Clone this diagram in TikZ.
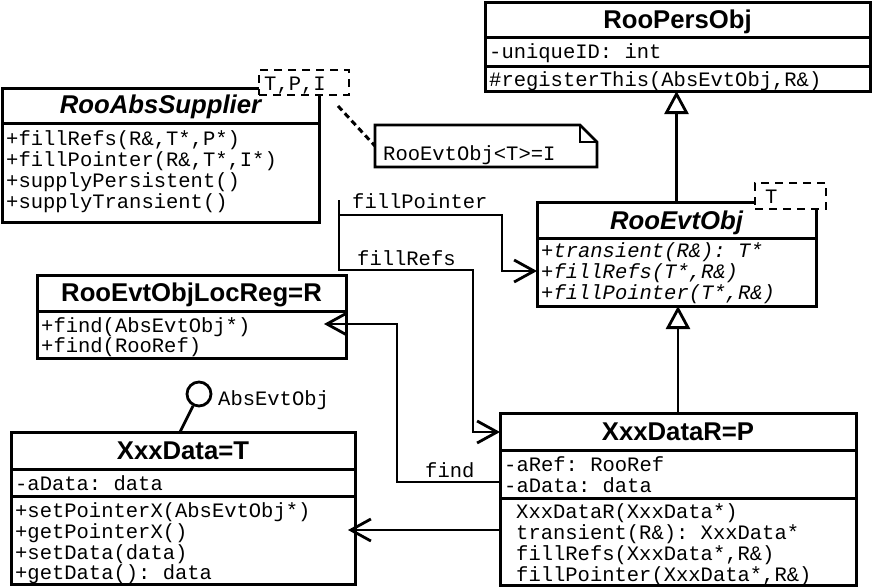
\documentclass[tikz,border=0pt]{standalone}
\usepackage{fontspec}
\setmainfont{Liberation Sans}
\setmonofont{Liberation Mono}
\usetikzlibrary{arrows.meta}
\begin{document}
\begin{tikzpicture}[x=1pt,y=-1pt,
  box/.style={draw, line width=3pt, inner sep=0pt, outer sep=0pt, anchor=north west, fill=white},
  sepline/.style={line width=3pt},
  ttl/.style={font=\fontsize{25.7}{30}\selectfont\bfseries, anchor=base, inner sep=0pt},
  attl/.style={font=\fontsize{25.7}{30}\selectfont\bfseries\itshape, anchor=base, inner sep=0pt},
  row/.style={font=\fontsize{20.5}{21}\selectfont\ttfamily, anchor=base west, inner sep=0pt},
  irow/.style={font=\fontsize{20.5}{21}\selectfont\ttfamily\itshape, anchor=base west, inner sep=0pt},
  conn/.style={line width=2.8pt},
  oarrow/.style={-{Straight Barb[length=20pt,width=22pt]}},
  inh/.style={line width=2.8pt, -{Triangle[open,length=23pt,width=24pt]}},
  tmpl/.style={draw, line width=2.8pt, dash pattern=on 8pt off 6pt, fill=white, inner sep=0pt, outer sep=0pt, anchor=north west},
]
\useasboundingbox (0,0) rectangle (872,587);

% ---------- RooPersObj ----------
\node[box, minimum width=385pt, minimum height=89pt] (ps) at (485,2) {};
\draw[sepline] (485,37) -- (870,37);
\draw[sepline] (485,66) -- (870,66);
\node[ttl] (pst) at (677.5,28) {RooPersObj};
\node[row] (ps1) at (489,58) {-uniqueID: int};
\node[row] (ps2) at (489,86) {\#registerThis(AbsEvtObj,R\&)};

% ---------- RooAbsSupplier ----------
\node[box, minimum width=317pt, minimum height=134pt] (as) at (2,88) {};
\draw[sepline] (2,123) -- (319,123);
\node[attl] (ast) at (160.5,113) {RooAbsSupplier};
\node[row] (as1) at (6,145) {+fillRefs(R\&,T*,P*)};
\node[row] (as2) at (6,166) {+fillPointer(R\&,T*,I*)};
\node[row] (as3) at (6,187) {+supplyPersistent()};
\node[row] (as4) at (6,208) {+supplyTransient()};

% ---------- note ----------
\node[inner sep=0pt, outer sep=0pt, minimum width=222pt, minimum height=42pt, anchor=north west] (note) at (375,125) {};
\draw[line width=2.8pt, line join=miter]
  (note.north west) -- ([xshift=-17pt]note.north east) -- ([yshift=-17pt]note.north east)
  -- (note.south east) -- (note.south west) -- cycle;
\draw[line width=1.6pt]
  ([xshift=-17pt]note.north east) -- ([xshift=-17pt,yshift=-17pt]note.north east) -- ([yshift=-17pt]note.north east);
\node[row] (notet) at (383,160) {RooEvtObj<T>=I};
\coordinate (dl) at (338,106);
\draw[line width=3pt, dash pattern=on 6pt off 4pt] (dl) -- (note.west);

% ---------- RooEvtObj ----------
\node[box, minimum width=279pt, minimum height=104pt] (evt) at (537,202) {};
\draw[sepline] (537,238) -- (816,238);
\node[attl] (evtt) at (676.5,229) {RooEvtObj};
\node[irow] (evt1) at (541,257) {+transient(R\&): T*};
\node[irow] (evt2) at (541,278) {+fillRefs(T*,R\&)};
\node[irow] (evt3) at (541,299) {+fillPointer(T*,R\&)};

% ---------- RooEvtObjLocReg ----------
\node[box, minimum width=309pt, minimum height=83pt] (loc) at (37,275) {};
\draw[sepline] (37,311) -- (346,311);
\node[ttl] (loct) at (191.5,301) {RooEvtObjLocReg=R};
\node[row] (loc1) at (41,332) {+find(AbsEvtObj*)};
\node[row] (loc2) at (41,352) {+find(RooRef)};

% ---------- XxxData ----------
\node[box, minimum width=344pt, minimum height=152pt] (xd) at (11,432) {};
\draw[sepline] (11,469) -- (355,469);
\draw[sepline] (11,496) -- (355,496);
\node[ttl] (xdt) at (183,459) {XxxData=T};
\node[row] (xd0) at (15,490) {-aData: data};
\node[row] (xd1) at (15,517) {+setPointerX(AbsEvtObj*)};
\node[row] (xd2) at (15,538) {+getPointerX()};
\node[row] (xd3) at (15,559) {+setData(data)};
\node[row] (xd4) at (15,579) {+getData(): data};

% lollipop
\node[draw, circle, line width=2.8pt, minimum size=24pt, inner sep=0pt] (lol) at (199,394) {};
\coordinate (lb) at (180,432);
\draw[conn] (lol) -- (lb);
\node[row] (lolt) at (218,405) {AbsEvtObj};

% ---------- XxxDataR ----------
\node[box, minimum width=356pt, minimum height=172pt] (xdr) at (500,413) {};
\draw[sepline] (500,450) -- (856,450);
\draw[sepline] (500,498) -- (856,498);
\node[ttl] (xdrt) at (678,440) {XxxDataR=P};
\node[row] (xdr1) at (504,471) {-aRef: RooRef};
\node[row] (xdr2) at (504,492) {-aData: data};
\node[row] (xdr3) at (516,518) {XxxDataR(XxxData*)};
\node[row] (xdr4) at (516,539) {transient(R\&): XxxData*};
\node[row] (xdr5) at (516,560) {fillRefs(XxxData*,R\&)};
\node[row] (xdr6) at (516,581) {fillPointer(XxxData*,R\&)};

% ---------- inheritance ----------
\draw[inh] (xdr.north) -- (xdr.north |- evt.south);
\draw[inh] (evt.north) -- (evt.north |- ps.south);

% ---------- connectors ----------
\coordinate (src) at (339,200);
\coordinate (c1) at (473,270);
\coordinate (fry) at (0,432);
\draw[conn, oarrow] (src) |- (c1) |- (xdr.west |- fry);
\node[row] (frl) at (357,265) {fillRefs};

\coordinate (fp0) at (339,215);
\coordinate (c2) at (502,215);
\coordinate (fpy) at (0,271);
\draw[conn, oarrow] (fp0) -- (c2) |- (evt.west |- fpy);
\node[row] (fpl) at (352,208) {fillPointer};

\coordinate (fy) at (0,482);
\coordinate (fx) at (397,0);
\coordinate (findtip) at (324,324);
\draw[conn, oarrow] (xdr.west |- fy) -| (fx |- findtip) -- (findtip);
\node[row] (fl) at (425,477) {find};

\coordinate (gy) at (0,530);
\coordinate (gettip) at (348,530);
\draw[conn, oarrow] (xdr.west |- gy) -- (gettip);

% template boxes on top
\node[tmpl, minimum width=90pt, minimum height=25pt] (tpi) at (259,70) {};
\node[row] (tpit) at (264,90) {T,P,I};
\node[tmpl, minimum width=71pt, minimum height=26pt] (tt) at (755,183) {};
\node[row] (ttt) at (765,203) {T};
\end{tikzpicture}
\end{document}
